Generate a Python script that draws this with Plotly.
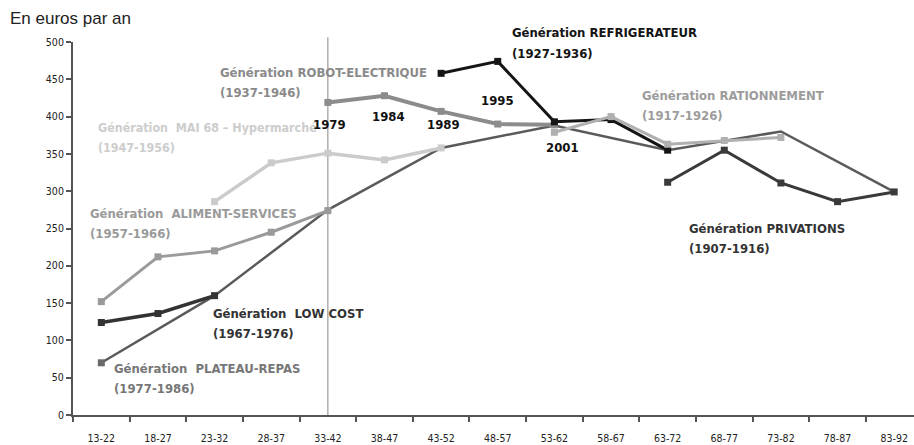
import plotly.graph_objects as go

# Age brackets on the horizontal axis
ages = ["13-22", "18-27", "23-32", "28-37", "33-42", "38-47", "43-52", "48-57",
        "53-62", "58-67", "63-72", "68-77", "73-82", "78-87", "83-92"]

# Food spending (euros per year) by birth cohort; None where a cohort was not observed
privations = [None] * 10 + [312, 355, 311, 286, 299]
rationnement = [None] * 8 + [379, 400, 363, 368, 372, None, None]
refrigerateur = [None] * 6 + [458, 474, 393, 396, 355] + [None] * 4
robot = [None] * 4 + [419, 428, 407, 390, 389] + [None] * 6
mai68 = [None] * 2 + [286, 338, 351, 342, 358] + [None] * 8
aliment = [152, 212, 220, 245, 274] + [None] * 10
lowcost = [124, 136, 160] + [None] * 12
plateau = [70] + [None] * 14

# 2001 survey: last observation of every cohort
survey_2001 = [70, None, 160, None, 275, None, 358, None, 388, None, 355, None, 380, None, 299]

# Survey years written along the ROBOT-ELECTRIQUE cohort
survey_years = ["1979", "1984", "1989", "1995", "2001"]

FONT = "Liberation Sans Narrow, Arial Narrow, DejaVu Sans Condensed, sans-serif"

# plot area in pixels
L, R, T, B = 73, 914, 42, 415


def py2paper(py):
    return (B - py) / (B - T)


def px2paper(px):
    return (px - L) / (R - L)


fig = go.Figure()

# cross-section line first so cohort lines sit on top
fig.add_trace(go.Scatter(x=ages, y=survey_2001, mode="lines", connectgaps=True,
                         line=dict(color="#5a5a5a", width=2.5), hoverinfo="skip"))

series = [
    (aliment, "#9a9a9a", 3),
    (lowcost, "#333333", 3.5),
    (mai68, "#cbcbcb", 3.5),
    (robot, "#8c8c8c", 4),
    (refrigerateur, "#151515", 3),
    (rationnement, "#b0b0b0", 3),
    (privations, "#3a3a3a", 3),
    (plateau, "#6a6a6a", 3),
]
for vals, col, w in series:
    fig.add_trace(go.Scatter(x=ages, y=vals, mode="lines+markers",
                             line=dict(color=col, width=w),
                             marker=dict(symbol="square", size=7, color=col),
                             hoverinfo="skip"))

# vertical reference at the 33-42 bracket
fig.add_shape(type="line", xref="x", yref="paper", x0=ages[4], x1=ages[4], y0=0, y1=1.013,
              line=dict(color="#9a9a9a", width=1.2), layer="below")

labels = [
    ("Génération REFRIGERATEUR", "(1927-1936)", 510, 33, "#141414", 13),
    ("Génération ROBOT-ELECTRIQUE", "(1937-1946)", 218, 72, "#8a8a8a", 13),
    ("Génération  MAI 68 – Hypermarché", "(1947-1956)", 96, 127, "#cdcdcd", 12.4),
    ("Génération RATIONNEMENT", "(1917-1926)", 640, 95, "#9c9c9c", 13),
    ("Génération  ALIMENT-SERVICES", "(1957-1966)", 88, 213, "#9a9a9a", 13),
    ("Génération  LOW COST", "(1967-1976)", 211, 313, "#333333", 13),
    ("Génération  PLATEAU-REPAS", "(1977-1986)", 112, 368, "#777777", 13),
    ("Génération PRIVATIONS", "(1907-1916)", 687, 228, "#333333", 13),
]

for line1, line2, px, py, col, size in labels:
    for txt, dy in ((line1, 0), (line2, 20.5)):
        fig.add_annotation(x=px2paper(px), y=py2paper(py + dy), xref="paper", yref="paper",
                           text=txt, showarrow=False, xanchor="left", yanchor="middle",
                           font=dict(family=FONT, size=size, color=col, weight="bold"))

year_pos = [(329, 124), (388, 116), (443, 124), (497, 100), (562, 147)]
for txt, (px, py) in zip(survey_years, year_pos):
    fig.add_annotation(x=px2paper(px), y=py2paper(py), xref="paper", yref="paper",
                       text=txt, showarrow=False, xanchor="center", yanchor="middle",
                       font=dict(family=FONT, size=13, color="#111111", weight="bold"))

fig.add_annotation(x=px2paper(8), y=py2paper(19), xref="paper", yref="paper",
                   text="En euros par an", showarrow=False, xanchor="left", yanchor="middle",
                   font=dict(family="Liberation Sans, Arial, sans-serif", size=17,
                             color="#222222"))

fig.update_layout(
    width=914, height=445,
    margin=dict(l=L, r=0, t=T, b=445 - B),
    paper_bgcolor="white", plot_bgcolor="white",
    showlegend=False,
    xaxis=dict(type="category", categoryorder="array", categoryarray=ages,
               range=[-0.5, 14.35], showgrid=False, zeroline=False,
               showline=True, linecolor="#555555", linewidth=2,
               ticks="outside", tickson="boundaries", ticklen=5, tickwidth=1.5,
               tickcolor="#555555", ticklabelstandoff=12,
               tickfont=dict(family=FONT, size=10.5, color="#222222")),
    yaxis=dict(range=[0, 500], tickvals=list(range(0, 501, 50)), showgrid=False,
               zeroline=False, showline=True, linecolor="#555555", linewidth=2,
               ticks="outside", ticklen=5, tickwidth=1.5, tickcolor="#555555",
               tickfont=dict(family=FONT, size=10.5, color="#222222")),
)

fig.write_html("out.html")
